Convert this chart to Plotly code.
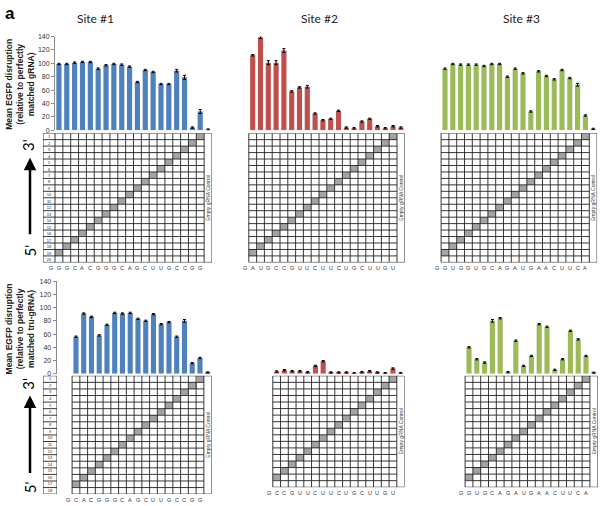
import plotly.graph_objects as go

W, H = 600, 506

# ---------------- data ----------------
site_titles = ["Site #1", "Site #2", "Site #3"]

site1_gRNA_seq = ["G", "G", "G", "C", "A", "C", "G", "G", "G", "C", "A", "G", "C", "U", "U", "G", "C", "C", "G", "G"]
site2_gRNA_seq = ["G", "A", "U", "G", "C", "C", "G", "U", "U", "C", "U", "U", "C", "U", "G", "C", "U", "U", "G", "U"]
site3_gRNA_seq = ["G", "G", "U", "G", "G", "U", "G", "C", "A", "G", "A", "U", "G", "A", "A", "C", "U", "U", "C", "A"]
site1_tru_seq = ["G", "C", "A", "C", "G", "G", "G", "C", "A", "G", "C", "U", "U", "G", "C", "C", "G", "G"]
site2_tru_seq = ["G", "C", "C", "G", "U", "U", "C", "U", "U", "C", "U", "G", "C", "U", "U", "G", "U"]
site3_tru_seq = ["G", "G", "U", "G", "C", "A", "G", "A", "U", "G", "A", "A", "C", "U", "U", "C", "A"]

# bar values: one per mismatch variant (grid column), last = empty gRNA control
site1_gRNA_vals = [99, 99, 101, 102, 102, 92, 97, 99, 98, 95, 72, 90, 87, 69, 69, 89, 79, 4, 28, 1]
site1_gRNA_err = [1, 1, 1, 1, 1, 1, 1, 1, 1, 1, 1, 1, 1, 1, 1, 2, 3, 1, 3, 1]
site2_gRNA_vals = [112, 139, 101, 101, 119, 58, 64, 65, 25, 15, 17, 29, 4, 3, 13, 17, 6, 3, 6, 4]
site2_gRNA_err = [1, 2, 3, 3, 3, 1, 1, 2, 1, 1, 1, 1, 1, 1, 1, 1, 1, 1, 1, 1]
site3_gRNA_vals = [92, 99, 98, 98, 98, 96, 99, 99, 80, 92, 85, 28, 88, 81, 76, 90, 78, 68, 22, 2]
site3_gRNA_err = [1, 1, 1, 1, 1, 1, 1, 1, 1, 1, 1, 1, 1, 1, 1, 1, 1, 2, 1, 1]

site1_tru_vals = [56, 91, 86, 58, 74, 92, 91, 92, 83, 80, 90, 75, 78, 56, 80, 16, 24, 2]
site1_tru_err = [1, 1, 1, 1, 1, 1, 1, 1, 1, 1, 1, 1, 1, 1, 2, 1, 1, 1]
site2_tru_vals = [3.5, 5.5, 4, 4, 2.5, 12, 19, 2, 2, 2, 1, 2.5, 4, 2, 1, 8, 1]
site2_tru_err = [1, 1, 1, 1, 1, 1, 1, 1, 1, 1, 1, 1, 1, 1, 1, 1, 1]
site3_tru_vals = [40, 22, 17, 80, 84, 2.5, 50, 12, 27, 75, 71, 6, 22, 65, 52, 27, 1.5]
site3_tru_err = [1, 1, 1, 2, 1, 1, 1, 1, 1, 1, 1, 1, 1, 1, 1, 1, 1]

# mismatched position (row, counted from the 3' end) of each variant column
gRNA_mismatch_rows = [19, 18, 17, 16, 15, 14, 13, 12, 11, 10, 9, 8, 7, 6, 5, 4, 3, 2, 1]
tru18_mismatch_rows = [17, 16, 15, 14, 13, 12, 11, 10, 9, 8, 7, 6, 5, 4, 3, 2, 1]
tru17_mismatch_rows = [16, 15, 14, 13, 12, 11, 10, 9, 8, 7, 6, 5, 4, 3, 2, 1]

# ---------------- layout config ----------------
BLUE, RED, GREEN = "#4F81BD", "#C0504D", "#9BBB59"
FONT = "Liberation Sans"

panels = [
    dict(vals=site1_gRNA_vals, err=site1_gRNA_err, seq=site1_gRNA_seq, mm=gRNA_mismatch_rows, color=BLUE,
         gx0=55.0, cw=7.85, axl=55.0, numcol=(43, 55), showy=True,
         bar=(33, 128), grid=(131, 262)),
    dict(vals=site2_gRNA_vals, err=site2_gRNA_err, seq=site2_gRNA_seq, mm=gRNA_mismatch_rows, color=RED,
         gx0=248.8, cw=7.8, axl=248.8, numcol=None, showy=False,
         bar=(33, 128), grid=(131, 262)),
    dict(vals=site3_gRNA_vals, err=site3_gRNA_err, seq=site3_gRNA_seq, mm=gRNA_mismatch_rows, color=GREEN,
         gx0=441.1, cw=7.8, axl=441.1, numcol=None, showy=False,
         bar=(33, 128), grid=(131, 262)),
    dict(vals=site1_tru_vals, err=site1_tru_err, seq=site1_tru_seq, mm=tru18_mismatch_rows, color=BLUE,
         gx0=72.1, cw=7.75, axl=56.6, numcol=(43, 57), showy=True,
         bar=(281, 375), grid=(377, 497)),
    dict(vals=site2_tru_vals, err=site2_tru_err, seq=site2_tru_seq, mm=tru17_mismatch_rows, color=RED,
         gx0=272.8, cw=7.75, axl=272.8, numcol=None, showy=False,
         bar=(281, 375), grid=(377, 490)),
    dict(vals=site3_tru_vals, err=site3_tru_err, seq=site3_tru_seq, mm=tru17_mismatch_rows, color=GREEN,
         gx0=465.1, cw=7.8, axl=465.1, numcol=None, showy=False,
         bar=(281, 375), grid=(377, 490)),
]

fig = go.Figure()
layout_axes = {}
annotations = []
counter = [0]


def add_axes(xpx, ypx, xrange, yrange):
    counter[0] += 1
    i = counter[0]
    xn = "xaxis" if i == 1 else f"xaxis{i}"
    yn = "yaxis" if i == 1 else f"yaxis{i}"
    xr = "x" if i == 1 else f"x{i}"
    yr = "y" if i == 1 else f"y{i}"
    layout_axes[xn] = dict(domain=[xpx[0] / W, xpx[1] / W], range=xrange, anchor=yr,
                           visible=False, fixedrange=True)
    layout_axes[yn] = dict(domain=[1 - ypx[1] / H, 1 - ypx[0] / H], range=yrange, anchor=xr,
                           visible=False, fixedrange=True)
    return xr, yr, xn, yn


def grid_lines(ncols, nvar, nrows, xr, yr):
    xs, ys = [], []
    for c in range(ncols + 1):
        xs += [c - 0.5, c - 0.5, None]
        ys += [0.5, nrows + 0.5, None]
    for r in range(nrows + 1):
        xend = ncols - 0.5 if r in (0, nrows) else nvar - 0.5
        xs += [-0.5, xend, None]
        ys += [r + 0.5, r + 0.5, None]
    fig.add_trace(go.Scatter(x=xs, y=ys, mode="lines", xaxis=xr, yaxis=yr,
                             line=dict(color="#222222", width=0.9), hoverinfo="skip",
                             cliponaxis=False, showlegend=False))


def note(**kw):
    kw.setdefault("showarrow", False)
    kw.setdefault("xanchor", "center")
    kw.setdefault("yanchor", "middle")
    annotations.append(kw)


for p in panels:
    n = len(p["vals"])
    nvar = len(p["mm"])
    nrows = len(p["seq"])
    cw = p["cw"]
    right = p["gx0"] + n * cw
    extra = (p["gx0"] - p["axl"]) / cw

    # bars
    xr, yr, xn, yn = add_axes((p["axl"], right), p["bar"], [-0.5 - extra, n - 0.5], [0, 140])
    fig.add_trace(go.Bar(x=list(range(n)), y=p["vals"], xaxis=xr, yaxis=yr, width=0.66,
                         marker=dict(color=p["color"], line=dict(width=0)),
                         error_y=dict(type="data", array=p["err"], color="black", thickness=1, width=1.5),
                         showlegend=False, hoverinfo="y"))
    if p["showy"]:
        layout_axes[yn].update(visible=True, showline=True, linecolor="#8c8c8c", linewidth=1,
                               ticks="outside", tickcolor="#8c8c8c", ticklen=3, dtick=20,
                               tickfont=dict(size=7, color="#333", family=FONT),
                               showgrid=False, zeroline=False)

    # mismatch grid (axis extended one column to the left to carry the first sequence letter)
    gxr, gyr, gxn, gyn = add_axes((p["gx0"] - cw, right), p["grid"], [-1.5, n - 0.5], [nrows + 0.5, 0.5])
    z = []
    for r in range(1, nrows + 1):
        row = [1 if p["mm"][c] == r else 0 for c in range(nvar)] + [0]
        z.append(row)
    fig.add_trace(go.Heatmap(z=z, x=list(range(n)), y=list(range(1, nrows + 1)), xaxis=gxr, yaxis=gyr,
                             colorscale=[[0, "white"], [1, "#a3a3a3"]], zmin=0, zmax=1,
                             showscale=False, hoverinfo="skip"))
    grid_lines(n, nvar, nrows, gxr, gyr)
    note(x=n - 1, y=(nrows + 1) / 2, xref=gxr, yref=gyr, text="Empty gRNA Control",
         textangle=-90, font=dict(size=5, color="#333", family=FONT))
    for k, letter in enumerate(p["seq"]):
        note(x=k - 1, y=nrows + 0.5, xref=gxr, yref=gyr, text=letter, yanchor="top",
             yshift=-1, font=dict(size=5.5, color="#333", family=FONT))

    # position-number column
    if p["numcol"]:
        nxr, nyr, _, _ = add_axes(p["numcol"], p["grid"], [-0.5, 0.5], [nrows + 0.5, 0.5])
        fig.add_trace(go.Heatmap(z=[[0] for _ in range(nrows)], x=[0], y=list(range(1, nrows + 1)),
                                 text=[[str(r)] for r in range(1, nrows + 1)], texttemplate="%{text}",
                                 textfont=dict(size=4, color="#222", family=FONT),
                                 xaxis=nxr, yaxis=nyr, colorscale=[[0, "white"], [1, "white"]],
                                 zmin=0, zmax=1, showscale=False, hoverinfo="skip"))
        grid_lines(1, 1, nrows, nxr, nyr)


# ---------------- text ----------------
def paper(x, y):
    return dict(x=x / W, y=1 - y / H, xref="paper", yref="paper")


title_x = [95, 319, 521]
for t, x in zip(site_titles, title_x):
    note(**paper(x, 15), text=t, font=dict(size=12, color="#222", family="Lato"))

note(**paper(10, 10), text="<b>a</b>", font=dict(size=17, color="black", family=FONT))

note(**paper(20, 82), text="<b>Mean EGFP disruption<br>(relative to perfectly<br>matched gRNA)</b>",
     textangle=-90, font=dict(size=8.5, color="#222", family=FONT))
note(**paper(20, 330), text="<b>Mean EGFP disruption<br>(relative to perfectly<br>matched tru-gRNA)</b>",
     textangle=-90, font=dict(size=8.5, color="#222", family=FONT))

for (y3, y5, yh, yt) in [(143, 250, 156, 234), (385, 490, 397, 476)]:
    note(**paper(28, y3), text="3'", textangle=-90, font=dict(size=15, color="black", family="Lato"))
    note(**paper(30, y5), text="5'", textangle=-90, font=dict(size=15, color="black", family="Lato"))
    note(**paper(30, yh), text="", showarrow=True, arrowhead=2, arrowsize=1,
         arrowwidth=2.5, arrowcolor="black", ax=0, ay=yt - yh)

fig.update_layout(width=W, height=H, margin=dict(l=0, r=0, t=0, b=0),
                  paper_bgcolor="white", plot_bgcolor="rgba(0,0,0,0)", bargap=0.34,
                  font=dict(family=FONT), showlegend=False, annotations=annotations,
                  **layout_axes)

fig.write_html("out.html", config={"displayModeBar": False},
               post_script="document.body.style.margin='0';document.body.style.overflow='hidden';")
